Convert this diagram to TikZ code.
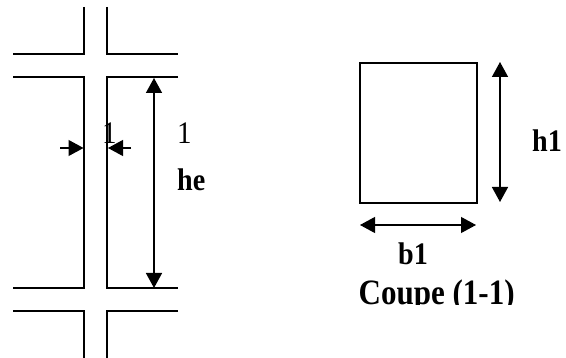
\documentclass[tikz,border=0pt]{standalone}
\usepackage{fontspec}
\setmainfont{Liberation Serif}
\usetikzlibrary{arrows.meta}
\tikzset{
  wall/.style={draw=black,line width=1.3pt},
  dim/.style={draw=black,line width=1.5pt},
  big/.style={-{Triangle[length=15pt,width=16pt]}},
  both/.style={{Triangle[length=15pt,width=16pt]}-{Triangle[length=15pt,width=16pt]}},
  lab/.style={inner sep=0pt,anchor=base west,font=\fontsize{29}{29}\selectfont,yscale=1.08},
  blab/.style={lab,font=\fontsize{29}{29}\selectfont\bfseries,xscale=.97},
}
\begin{document}
\begin{tikzpicture}[x=1pt,y=-1pt]
\useasboundingbox (0,0) rectangle (566,358);
\coordinate (tl) at (84,7); \coordinate (tr) at (107,7);
\coordinate (a1) at (13,54); \coordinate (a2) at (84,54);
\coordinate (a3) at (107,54); \coordinate (a4) at (178,54);
\coordinate (b1) at (13,77); \coordinate (b2) at (84,77);
\coordinate (b3) at (107,77); \coordinate (b4) at (178,77);
\coordinate (c1) at (13,288); \coordinate (c2) at (84,288);
\coordinate (c3) at (107,288); \coordinate (c4) at (178,288);
\coordinate (d1) at (13,311); \coordinate (d2) at (84,311);
\coordinate (d3) at (107,311); \coordinate (d4) at (178,311);
\coordinate (bl) at (84,358); \coordinate (br) at (107,358);
\draw[wall] (tl) -- (a2) -- (a1);
\draw[wall] (tr) -- (a3) -- (a4);
\draw[wall] (b1) -- (b2) -- (c2) -- (c1);
\draw[wall] (b4) -- (b3) -- (c3) -- (c4);
\draw[wall] (d1) -- (d2) -- (bl);
\draw[wall] (d4) -- (d3) -- (br);
\coordinate (he1) at (154,78); \coordinate (he2) at (154,288);
\draw[dim,both] (he1) -- (he2);
\coordinate (e1) at (60,148); \coordinate (e2) at (83.5,148);
\coordinate (e3) at (131,148); \coordinate (e4) at (108,148);
\draw[line width=1.2pt,big] (e1) -- (e2);
\draw[line width=1.2pt,big] (e3) -- (e4);
\node[lab] (one1) at (102,144) {1};
\node[lab] (one2) at (177,144) {1};
\node[blab] (he) at (177,191) {he};
\node[draw=black,line width=1.8pt,minimum width=116.5pt,minimum height=140pt,inner sep=0pt,anchor=north west] (sec) at (359.3,62) {};
\coordinate (h1a) at (500,62); \coordinate (h1b) at (500,202);
\draw[dim,both] (h1a) -- (h1b);
\node[blab] (h1) at (532,152) {h1};
\coordinate (b1a) at (360,225); \coordinate (b1b) at (476,225);
\draw[line width=1.1pt,both] (b1a) -- (b1b);
\node[blab] (b1t) at (398,265) {b1};
\begin{scope}
\clip (340,270) rectangle (566,305);
\node[lab,font=\fontsize{33}{33}\selectfont\bfseries,xscale=.94] (cp) at (358.5,305) {Coupe (1-1)};
\end{scope}
\end{tikzpicture}
\end{document}
